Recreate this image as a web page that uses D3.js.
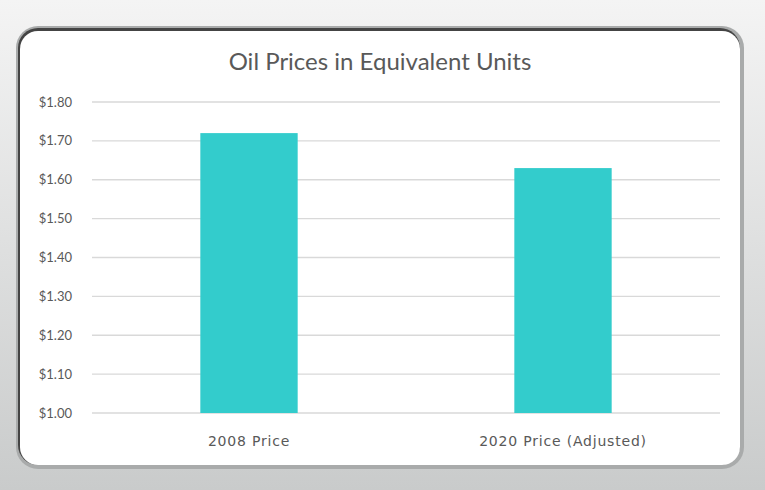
<!DOCTYPE html>
<html><head><meta charset="utf-8">
<script src="https://cdn.jsdelivr.net/npm/d3@7"></script>
<style>body{margin:0;overflow:hidden}</style>
</head><body>
<script>
const categories = ["2008 Price", "2020 Price (Adjusted)"];
const values = [1.72, 1.63];
const yTicks = [1.0, 1.1, 1.2, 1.3, 1.4, 1.5, 1.6, 1.7, 1.8];
const title = "Oil Prices in Equivalent Units";

const W = 765, H = 490;
const svg = d3.select("body").append("svg").attr("width", W).attr("height", H);
const defs = svg.append("defs");
const g = defs.append("linearGradient").attr("id","bg").attr("x1",0).attr("y1",0).attr("x2",0).attr("y2",1);
g.append("stop").attr("offset","0%").attr("stop-color","#f4f4f4");
g.append("stop").attr("offset","100%").attr("stop-color","#c9cbcb");
svg.append("rect").attr("width",W).attr("height",H).attr("fill","url(#bg)");
// card
svg.append("rect").attr("x",16).attr("y",26).attr("width",728).attr("height",443).attr("rx",22)
  .attr("fill","#a9abab");
svg.append("rect").attr("x",18).attr("y",28).attr("width",722).attr("height",437).attr("rx",20)
  .attr("fill","#444");
svg.append("rect").attr("x",20).attr("y",31).attr("width",720).attr("height",434).attr("rx",18)
  .attr("fill","#fff");

const x = d3.scaleBand().domain(categories).range([92,720]).paddingInner(0.69).paddingOuter(0.345);
const y = d3.scaleLinear().domain([1.0,1.8]).range([413,102]);

svg.append("g").selectAll("line").data(yTicks).join("line")
  .attr("x1",92).attr("x2",720).attr("y1",d=>y(d)).attr("y2",d=>y(d))
  .attr("stroke","#d9d9d9").attr("stroke-width",1.3);
svg.append("g").selectAll("text").data(yTicks).join("text")
  .attr("x",72).attr("y",d=>y(d)+4.5).attr("text-anchor","end")
  .attr("font-family","Lato, sans-serif").attr("font-size",13).attr("fill","#595959")
  .text(d=>"$"+d.toFixed(2));

svg.append("g").selectAll("rect").data(values).join("rect")
  .attr("x",(d,i)=>x(categories[i])).attr("width",x.bandwidth())
  .attr("y",d=>y(d)).attr("height",d=>y(1.0)-y(d)).attr("fill","#33cccc");

svg.append("g").selectAll("text").data(categories).join("text")
  .attr("x",d=>x(d)+x.bandwidth()/2).attr("y",446).attr("text-anchor","middle")
  .attr("font-family","DejaVu Sans, sans-serif").attr("font-size",14).attr("letter-spacing",0.8)
  .attr("fill","#595959").text(d=>d);

svg.append("text").attr("x",380).attr("y",70).attr("text-anchor","middle")
  .attr("font-family","Lato, sans-serif").attr("font-size",24).attr("fill","#595959").text(title);
</script>
</body></html>
